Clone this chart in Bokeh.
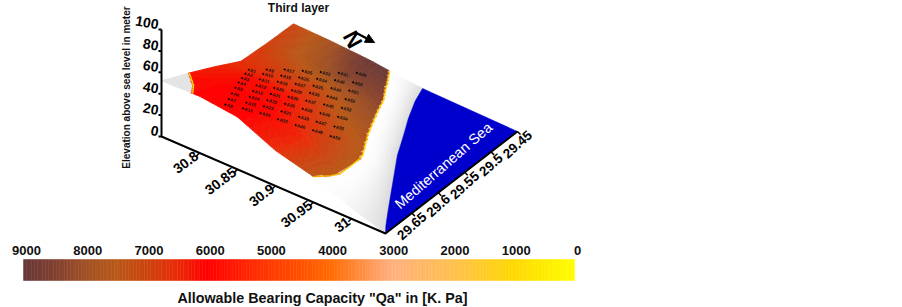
import numpy as np
from bokeh.plotting import figure
from bokeh.models import Arrow, NormalHead
from bokeh.core.properties import value
from bokeh.embed import file_html
from bokeh.resources import INLINE

title = "Third layer"
z_label = "Elevation above sea level in meter"
bar_title = 'Allowable Bearing Capacity  "Qa" in [K. Pa]'
sea_label = "Mediterranean Sea"
z_ticks = [0, 20, 40, 60, 80, 100]
lat_ticks = [30.8, 30.85, 30.9, 30.95, 31]
lat_tick_labels = ["30.8", "30.85", "30.9", "30.95", "31"]
lon_ticks = [29.65, 29.6, 29.55, 29.5, 29.45]
lon_tick_labels = ["29.65", "29.6", "29.55", "29.5", "29.45"]
bar_ticks = [9000, 8000, 7000, 6000, 5000, 4000, 3000, 2000, 1000, 0]

lats = [30.75, 30.80, 30.85, 30.90, 30.95, 31.00, 31.045]
lons = [29.70, 29.65, 29.60, 29.55, 29.50, 29.45]
elev = [[52, 53, 49, 33, 24, 10, 0],
        [40, 42, 38, 26, 9, 3, 0],
        [27, 31, 28, 18, 5, 1, 0],
        [13, 21, 19, 12, 2, 0, 0],
        [11, 12, 11, 6, 1, 0, 0],
        [10, 9, 7, 3, 0, 0, 0]]
qa = [[6200, 6000, 6000, 6500, 7400, 7600, 7600],
      [6200, 6000, 6000, 6400, 7500, 7600, 7600],
      [6400, 6100, 6200, 7000, 7600, 7700, 7700],
      [6500, 6900, 7100, 7800, 8100, 8300, 8300],
      [6900, 7600, 8300, 8400, 8600, 8700, 8700],
      [7000, 7900, 8900, 8900, 8900, 8900, 8900]]
coast_lon = [29.70, 29.6715, 29.635, 29.604, 29.569, 29.527, 29.5025, 29.45]
coast_lat = [30.950, 30.953, 30.951, 30.948, 30.931, 30.914, 30.905, 30.877]
sea_lon = [29.70, 29.69, 29.64, 29.5725, 29.507, 29.4755, 29.45]
sea_lat = [31.045, 31.0385, 31.01, 30.972, 30.941, 30.928, 30.92]
tip_lon = [29.70, 29.6775, 29.6475]
tip_lat = [30.791, 30.7766, 30.75]
# stations A1..A56: corner positions (lon, lat) of the 8 x 7 grid
st_lon = [29.575, 29.6875, 29.4825, 29.6125]
st_lat = [30.778, 30.8255, 30.856, 30.912]

scale_q = [0, 1000, 2000, 3000, 4000, 5000, 6000, 6500, 7000, 7500, 8000, 8500, 9000]
scale_c = ["#ffff00", "#ffd800", "#ffc050", "#ffb080", "#ff6a00", "#ff3800", "#ff0000",
           "#e82c08", "#cc4410", "#b85818", "#a05025", "#804030", "#663838"]

# ---- oblique projection of the 3D box on the page ----
LAT0, LAT1, LON0, LON1 = 30.75, 31.045, 29.70, 29.45
O = np.array([161.0, 136.0])
A = np.array([224.0, 97.0])
B = np.array([132.0, -102.0])
ZS = 1.07


def project(lon, lat, z):
    t = (np.asarray(lat) - LAT0) / (LAT1 - LAT0)
    s = (np.asarray(lon) - LON0) / (LON1 - LON0)
    return O[0] + A[0] * t + B[0] * s, O[1] + A[1] * t + B[1] * s - ZS * np.asarray(z)


LA = np.array(lats)
LO = -np.array(lons)


def bilinear(tab, lon, lat):
    tab = np.asarray(tab, float)
    i = np.clip(np.searchsorted(LO, -lon) - 1, 0, len(LO) - 2)
    j = np.clip(np.searchsorted(LA, lat) - 1, 0, len(LA) - 2)
    u = (-lon - LO[i]) / (LO[i + 1] - LO[i])
    v = (lat - LA[j]) / (LA[j + 1] - LA[j])
    return (tab[i, j] * (1 - u) * (1 - v) + tab[i + 1, j] * u * (1 - v)
            + tab[i, j + 1] * (1 - u) * v + tab[i + 1, j + 1] * u * v)


def interp_b(lon, blon, blat):
    return np.interp(-lon, -np.array(blon), np.array(blat))


def qcolor(q):
    rgb = [int(scale_c[k][c:c + 2], 16) for k in range(len(scale_c)) for c in (1, 3, 5)]
    rgb = np.array(rgb).reshape(-1, 3)
    return "#%02x%02x%02x" % tuple(int(round(np.interp(q, scale_q, rgb[:, c]))) for c in range(3))


p = figure(width=902, height=307, x_range=(0, 902), y_range=(307, 0), output_backend="svg",
           toolbar_location=None, min_border=0, x_axis_type=None, y_axis_type=None,
           outline_line_color=None, margin=(0, 0, 0, 0))
p.grid.visible = False
p.background_fill_color = "white"
p.border_fill_color = "white"

# ---- surface ----
N = 84
xs, ys, cs = [], [], []
lon_e = np.linspace(LON0, LON1, N + 1)
lat_e = np.linspace(LAT0, LAT1, N + 1)
for i in range(N):
    for j in range(N):
        lo = np.array([lon_e[i], lon_e[i + 1], lon_e[i + 1], lon_e[i]])
        la = np.array([lat_e[j], lat_e[j], lat_e[j + 1], lat_e[j + 1]])
        z = bilinear(elev, lo, la)
        x, y = project(lo, la, z)
        clo, cla = lo.mean(), la.mean()
        coast = interp_b(clo, coast_lon, coast_lat)
        sea = interp_b(clo, sea_lon, sea_lat)
        tip = np.interp(-clo, -np.array(tip_lon), np.array(tip_lat), right=LAT0 - 1)
        if cla >= sea + 0.006:
            continue
        if cla >= coast:
            f = min((cla - coast) / max(sea - coast, 1e-6), 1.0)
            g = int(255 - 36 * f ** 2)
            c = "#%02x%02x%02x" % (g, g, g)
        elif cla <= tip:
            c = "#e4e4e4"
        else:
            q = float(bilinear(qa, np.array([clo]), np.array([cla]))[0])
            c = qcolor(round(q / 100) * 100)
        xs.append(list(x))
        ys.append(list(y))
        cs.append(c)
p.patches(xs, ys, fill_color=cs, line_color=cs, line_width=0.7)

# ---- sea ----
lo = np.linspace(sea_lon[0], sea_lon[-1], 80)
la = interp_b(lo, sea_lon, sea_lat)
sx_, sy_ = project(lo, la, bilinear(elev, lo, la))
cx, cy = project(LON1, LAT1, 0)
p.patch(list(sx_) + [float(cx)], list(sy_) + [float(cy)], fill_color="#0000cc", line_color="#0000cc", line_width=0.5)

# ---- yellow rims of the coloured area ----
for blon, blat in ((coast_lon, coast_lat), (tip_lon, tip_lat)):
    lo = np.linspace(blon[0], blon[-1], 120)
    la = interp_b(lo, blon, blat)
    x, y = project(lo, la, bilinear(elev, lo, la))
    p.line(x, y, line_color="#ffe000", line_width=1.3)
    p.line(x - 1.0, y, line_color="#f07000", line_width=0.7)

# ---- box axes ----
x0, y0 = project(LON0, LAT0, 0)
x1, y1 = project(LON0, LAT1, 0)
x2, y2 = project(LON1, LAT1, 0)
x3, y3 = project(LON0, LAT0, 100)
p.line([x3, x0, x1, x2], [y3, y0, y1, y2], line_color="black", line_width=2)

zx, zy = project(np.full(6, LON0), np.full(6, LAT0), np.array(z_ticks, float))
p.segment(zx, zy, zx - 3, zy, line_color="black", line_width=2)
p.text(zx - 3, zy - 5, text=[str(v) for v in z_ticks], text_align="right", text_baseline="middle",
       angle=np.radians(-10), text_font=value("Liberation Sans"), text_font_style="bold",
       text_font_size="14px", text_color="black")

tx, ty = project(np.full(5, LON0), np.array(lat_ticks), np.zeros(5))
p.segment(tx, ty, tx - 3, ty + 3, line_color="black", line_width=1.5)
p.text(tx - 3, ty + 1, text=lat_tick_labels, text_align="right", text_baseline="middle",
       angle=np.radians(37), text_font=value("Liberation Sans"), text_font_style="bold",
       text_font_size="14px", text_color="black")

ux, uy = project(np.array(lon_ticks), np.full(5, LAT1), np.zeros(5))
p.segment(ux, uy, ux + 3, uy + 3, line_color="black", line_width=1.5)
p.text(ux, uy + 13, text=lon_tick_labels, text_align="center", text_baseline="middle",
       angle=np.radians(42), text_font=value("Liberation Sans"), text_font_style="bold",
       text_font_size="13.5px", text_color="black")

# ---- stations ----
rows, cols = 8, 7
names, sx, sy = [], [], []
for c in range(cols):
    for r in range(rows):
        a, b = r / (rows - 1), c / (cols - 1)
        lo = (1 - a) * (1 - b) * st_lon[0] + a * (1 - b) * st_lon[1] + (1 - a) * b * st_lon[2] + a * b * st_lon[3]
        la = (1 - a) * (1 - b) * st_lat[0] + a * (1 - b) * st_lat[1] + (1 - a) * b * st_lat[2] + a * b * st_lat[3]
        x, y = project(lo, la, bilinear(elev, np.array([lo]), np.array([la]))[0])
        names.append("A%d" % (c * rows + r + 1))
        sx.append(float(x))
        sy.append(float(y))
p.scatter(sx, sy, size=1.3, color="black")
p.text(np.array(sx) + 1.5, np.array(sy) + 0.5, text=names, text_align="left", text_baseline="middle",
       angle=np.radians(-15), text_font=value("Liberation Sans"), text_font_style="bold",
       text_font_size="4.5px", text_color="#111111")

# ---- texts ----
p.text([298], [7], text=[title], text_align="center", text_baseline="middle",
       text_font=value("Liberation Sans"), text_font_style="bold", text_font_size="12px", text_color="#111111")
p.text([126], [87], text=[z_label], text_align="center", text_baseline="middle", angle=np.pi / 2,
       text_font=value("Liberation Sans"), text_font_style="bold", text_font_size="10px", text_color="#111111")
p.text([443], [165], text=[sea_label], text_align="center", text_baseline="middle", angle=np.radians(41),
       text_font=value("Liberation Sans"), text_font_size="14.5px", text_color="white")
p.text([352], [39], text=["N"], text_align="center", text_baseline="middle", angle=np.radians(-62),
       text_font=value("Liberation Sans"), text_font_style="bold", text_font_size="22px", text_color="black")
p.add_layout(Arrow(end=NormalHead(size=9, fill_color="black", line_color="black"),
                   x_start=355, y_start=32, x_end=374, y_end=42, line_color="black", line_width=2.5))

# ---- colour scale ----
BX0, BX1, BY0, BY1 = 23.0, 574.0, 259.0, 280.0
vals = np.arange(0, 9000, 45)
left = BX1 - (vals + 45) / 9000 * (BX1 - BX0)
right = BX1 - vals / 9000 * (BX1 - BX0)
cols_bar = [qcolor(v + 22) for v in vals]
p.quad(left=left, right=right, top=BY0, bottom=BY1, fill_color=cols_bar, line_color=cols_bar, line_width=0.5)
bx = BX1 - np.array(bar_ticks) / 9000 * (BX1 - BX0)
p.text(bx + 3, np.full(len(bx), 250.0), text=[str(v) for v in bar_ticks], text_align="center",
       text_baseline="middle", text_font=value("Liberation Sans"), text_font_style="bold",
       text_font_size="13px", text_color="#111111")
p.text([324], [297], text=[bar_title], text_align="center", text_baseline="middle",
       text_font=value("Liberation Sans"), text_font_style="bold", text_font_size="14.3px", text_color="#111111")

open("out.html", "w").write(file_html(p, INLINE))
